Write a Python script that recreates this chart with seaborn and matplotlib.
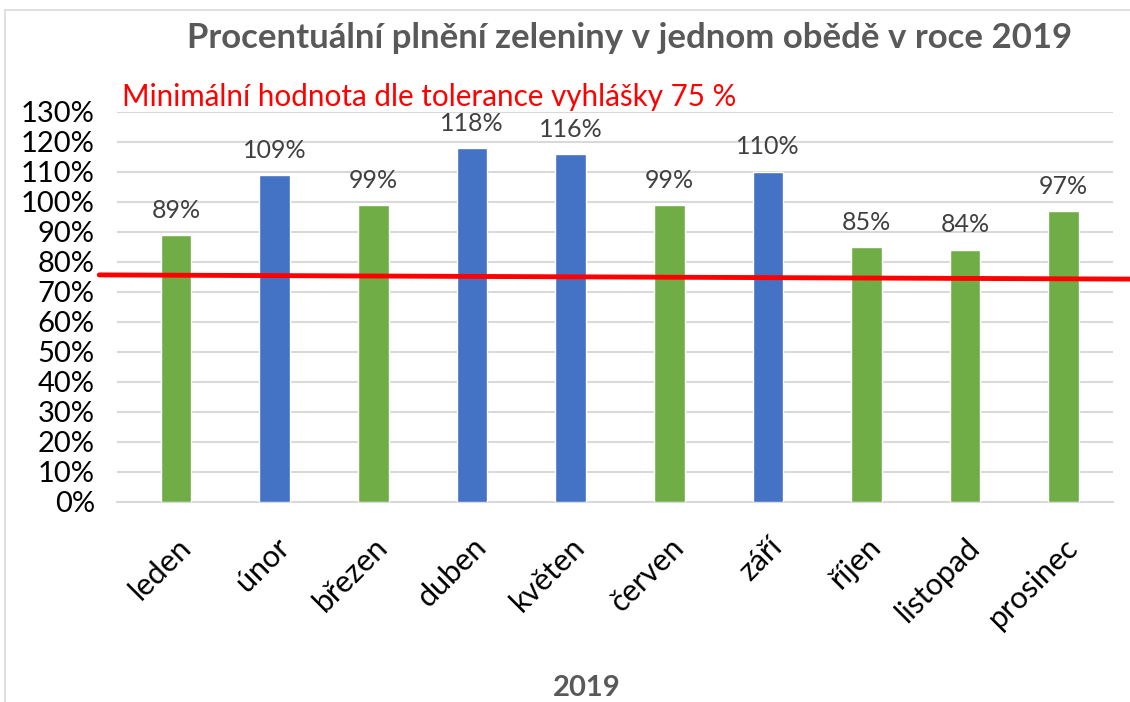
import matplotlib
matplotlib.use("Agg")
import matplotlib.pyplot as plt
import seaborn as sns
import pandas as pd
from matplotlib.patches import Rectangle

# data
months = ["leden", "únor", "březen", "duben", "květen", "červen",
          "září", "říjen", "listopad", "prosinec"]
values = [0.89, 1.09, 0.99, 1.18, 1.16, 0.99, 1.10, 0.85, 0.84, 0.97]
labels = ["89%", "109%", "99%", "118%", "116%", "99%", "110%", "85%", "84%", "97%"]
yticks = [i / 10 for i in range(0, 14)]
limit_line = [0.757, 0.743]  # red line start / end (slightly tilted)

df = pd.DataFrame({"month": months, "value": values})
df["group"] = ["nad" if v >= 1.0 else "pod" for v in values]

sns.set_theme(style="white")
plt.rcParams["font.family"] = ["Lato", "DejaVu Sans"]

fig = plt.figure(figsize=(11.3, 7.02), dpi=100)
ax = fig.add_axes([117 / 1130, 1 - 502 / 702, (1113 - 117) / 1130, (502 - 112) / 702])

sns.barplot(data=df, x="month", y="value", hue="group", dodge=False,
            palette={"pod": "#70AD47", "nad": "#4472C4"}, width=0.31,
            saturation=1, legend=False, ax=ax, zorder=3)

ax.set_ylim(0, 1.30)
ax.set_yticks(yticks)
ax.set_yticklabels([f"{int(round(t * 100))}%" for t in yticks], fontsize=21, color="#000000")
ax.tick_params(axis="y", length=0, pad=16)
ax.tick_params(axis="x", length=0, pad=22)
plt.setp(ax.get_xticklabels(), rotation=45, ha="right", rotation_mode="anchor",
         fontsize=22, color="#000000")
ax.set_xlim(-0.6, 9.5)

ax.grid(axis="y", color="#D9D9D9", linewidth=1.5, zorder=0)
for s in ["top", "right", "left"]:
    ax.spines[s].set_visible(False)
ax.spines["bottom"].set_color("#D9D9D9")
ax.spines["bottom"].set_linewidth(1.5)

for i, lab in enumerate(labels):
    ax.text(i, values[i] + 0.045, lab, ha="center", va="bottom",
            fontsize=18, color="#404040")

ax.set_xlabel("2019", fontsize=21, fontweight="bold", color="#595959")
ax.xaxis.set_label_coords((587 - 117) / (1113 - 117), -(675 - 502) / (502 - 112))
ax.set_ylabel("")

# red limit line extends beyond plot area
ax.plot([-0.78, 9.68], limit_line, color="#FF0000", linewidth=3.5,
        clip_on=False, zorder=5)

fig.text(630 / 1130, 1 - 38 / 702, "Procentuální plnění zeleniny v jednom obědě v roce 2019",
         ha="center", va="center", fontsize=25, fontweight="bold", color="#595959")
fig.text(122 / 1130, 1 - 97 / 702, "Minimální hodnota dle tolerance vyhlášky 75 %",
         ha="left", va="center", fontsize=21.3, color="#FF0000")

fig.patches.append(Rectangle((5 / 1130, -0.01), 1.02, 1 - 10 / 702 + 0.01,
                             transform=fig.transFigure, fill=False,
                             edgecolor="#D9D9D9", linewidth=1.2))

fig.savefig("out.png", dpi=100)
